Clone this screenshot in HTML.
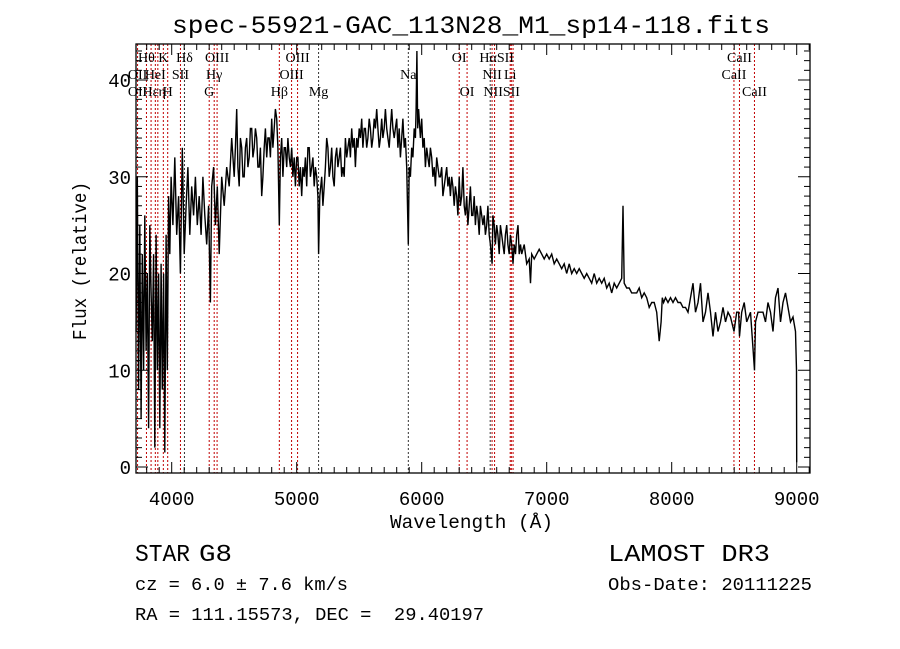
<!DOCTYPE html>
<html><head><meta charset="utf-8"><style>
html,body{margin:0;padding:0;background:#fff;}
svg{display:block;}
text{font-family:"Liberation Mono","DejaVu Sans Mono",monospace;fill:#000;}
.ser{font-family:"Liberation Serif",serif;}
</style></head><body>
<svg id="chart" width="900" height="649" viewBox="0 0 900 649" xmlns="http://www.w3.org/2000/svg">
<rect width="900" height="649" fill="#fff"/>
<text x="172" y="33" font-size="25" textLength="598" lengthAdjust="spacingAndGlyphs">spec-55921-GAC_113N28_M1_sp14-118.fits</text>
<g id="lines"></g>
<g id="labels"></g>
<g id="axes"></g>
<path id="spec" fill="none" stroke="#000" stroke-width="1.4" stroke-linejoin="miter"/>
<text x="390" y="528" font-size="19" textLength="163" lengthAdjust="spacingAndGlyphs">Wavelength (Å)</text>
<text transform="translate(86,340) rotate(-90)" font-size="19" textLength="158" lengthAdjust="spacingAndGlyphs">Flux (relative)</text>
<text x="135" y="561" font-size="24" textLength="55" lengthAdjust="spacingAndGlyphs">STAR</text>
<text x="199" y="561" font-size="24" textLength="33" lengthAdjust="spacingAndGlyphs">G8</text>
<text x="608" y="561" font-size="24" textLength="162" lengthAdjust="spacingAndGlyphs">LAMOST DR3</text>
<text x="135" y="590" font-size="18" textLength="213" lengthAdjust="spacingAndGlyphs">cz = 6.0 ± 7.6 km/s</text>
<text x="608" y="590" font-size="18" textLength="204" lengthAdjust="spacingAndGlyphs">Obs-Date: 20111225</text>
<text x="135" y="620" font-size="18" textLength="349" lengthAdjust="spacingAndGlyphs" xml:space="preserve" style="white-space:pre">RA = 111.15573, DEC =  29.40197</text>
</svg>
<script>
const wave=[3715,3725,3735,3745,3755,3765,3775,3785,3795,3805,3815,3825,3835,3845,3855,3865,3875,3885,3895,3905,3915,3925,3935,3945,3955,3965,3975,3985,3995,
4010,4025,4040,4055,4070,4085,4100,4115,4130,4145,4160,4175,4190,4205,4220,4235,4250,4265,4280,4295,4305,4310,4320,4335,4350,4365,4380,4400,4420,4440,4460,4480,4500,
4510,4520,4530,4540,4550,4560,4570,4580,4590,4600,
4610,4620,4630,4640,4650,4660,4670,4680,4690,4700,
4710,4720,4730,4740,4750,4760,4770,4780,4790,4800,
4810,4820,4830,4840,4850,4861,4870,4880,4890,4900,
4910,4920,4930,4940,4950,4960,4970,4980,4990,5000,
5010,5020,5030,5040,5050,5060,5070,5080,5090,5100,
5110,5120,5130,5140,5150,5160,5170,5175,5185,5200,
5210,5220,5230,5240,5250,5260,5270,5280,5290,5300,
5310,5320,5330,5340,5350,5360,5370,5380,5390,5400,
5410,5420,5430,5440,5450,5460,5470,5480,5490,5500,
5510,5520,5530,5540,5550,5560,5570,5580,5590,5600,
5610,5620,5630,5640,5650,5660,5670,5680,5690,5700,
5710,5720,5730,5740,5750,5760,5770,5780,5790,5800,
5810,5820,5830,5840,5850,5860,5870,5880,5893,5900,
5910,5920,5930,5940,5950,5955,5962,5968,5975,5990,
6000,6010,6020,6030,6040,6050,6060,6070,6080,6090,
6100,6110,6120,6130,6140,6150,6160,6170,6180,6190,
6200,6210,6220,6230,6240,6250,6260,6270,6280,6290,
6300,6310,6320,6330,6340,6350,6360,6370,6380,6390,
6400,6410,6420,6430,6440,6450,6460,6470,6480,6490,
6500,6510,6520,6530,6540,6550,6563,6570,6580,6590,
6600,6610,6620,6630,6640,6650,6660,6670,6680,6690,
6700,6710,6720,6730,6740,6750,6760,6770,6780,6790,
6800,6820,6840,6860,6870,6880,6900,6920,6940,6960,
6980,7000,7020,7040,7060,7080,7100,7120,7140,7160,
7180,7200,7220,7240,7260,7280,7300,7320,7340,7360,
7380,7400,7420,7440,7460,7480,7500,7520,7540,7560,
7580,7600,7610,7620,7640,7660,7680,7700,7720,7740,
7760,7780,7800,7820,7840,7860,7880,7900,7915,7925,
7935,7950,7970,7990,8010,8030,8050,8070,8090,8110,
8130,8150,8170,8190,8210,8230,8250,8270,8290,8310,
8330,8350,8370,8390,8410,8430,8450,8470,8498,8520,
8535,8542,8560,8580,8600,8630,8662,8670,8690,8710,
8730,8750,8770,8790,8810,8830,8850,8870,8890,8910,
8930,8950,8970,8990,8998,9000];
const flux=[14,30,8,25,5,22,10,26,12,20,4,25,18,13,22,2,24,10,20,4,21,8,20,1.5,24,10,28,22,30,
25,32,24,28,20,33,22,27,31,24,29,26,30,25,28,24,30,26,23,27,20,17,29,31,25,29,22,30,27,31,29,34,30,
33,37,31,29,34,33,30,30,33,34,
31,32,35,35,32,33,35,34,31,31,
33,28,30,33,35,32,34,34,32,36,
33,35,37,36,33,25,32,34,30,33,
33,31,34,32,31,33,30,32,29,32,
32,29,31,28,31,30,32,29,33,33,
30,31,32,29,31,30,28,22,28,30,
27,29,31,34,33,30,31,33,30,29,
32,33,31,32,33,30,31,30,34,32,
33,34,32,35,33,34,31,34,33,35,
34,36,33,35,35,33,34,36,35,33,
34,36,35,37,35,33,34,36,34,35,
37,35,34,33,35,37,35,34,35,36,
33,35,32,34,36,33,34,31,23,31,
30,33,32,35,34,37,43,35,37,34,
36,33,34,31,33,32,31,33,32,30,
31,29,32,31,30,30,31,28,29,30,
31,29,30,28,30,29,27,29,28,26,
30,27,28,31,27,26,28,25,27,29,
26,26,28,25,27,26,24,27,26,25,
26,24,25,27,24,23,21,26,25,23,
25,24,22,25,24,23,22,24,25,23,
22,24,23,21,23,22,24,25,22,23,
22,23,21,21.5,19,22,21.5,22,22.5,22,
21.5,22,21.5,22,21,21.5,21,20.5,21,20,
21,20,20.5,20,20.5,20,19.5,20,19.5,19,
20,19,19.5,19,19.5,18.5,19,18,19,18.5,
19,19.5,27,19,18.5,18.5,18,18,18,18.5,
17.5,18,17.5,16.5,17,17,16,13,15,17.5,
17,17.5,17,17.5,17,17.5,17,17,16.5,16.5,
16,17.5,19,16,17,19,15,16,18,16,
13.5,16,14,15,16.5,15,16,15.5,14,16,
16,13.5,16,17,15,16,10,15,16,16,
16,15,17,16,14,17.5,18.5,15,17,18,
16.5,15,15.5,14,10,0.5];
const lineWave=[3727,3798,3835,3869,3889,3933,3968,4070,4102,4300,4340,4363,4861,4959,5007,5175,5893,6300,6363,6548,6563,6583,6708,6717,6731,8498,8542,8662];
const lineDark=[0,0,0,0,0,0,0,0,1,0,0,0,0,0,0,1,1,0,0,1,0,0,0,0,0,0,0,0];
const labelText=["Hθ","K","Hδ","OIII","OIII","OI","HαSII","CaII","OII","HeI","SII","Hγ","OIII","Na","NII","Li","CaII","OII","Hεη","H","G","Hβ","Mg","OI","NIISII","CaII"];
const labelWave=[3798,3933,4102,4363,5007,6300,6600,8542,3727,3869,4070,4340,4959,5893,6563,6708,8498,3727,3860,3968,4300,4861,5175,6363,6640,8662];
const labelRow=[0,0,0,0,0,0,0,0,1,1,1,1,1,1,1,1,1,2,2,2,2,2,2,2,2,2];
const xTicks=[4000,5000,6000,7000,8000,9000];
const yTicks=[0,10,20,30,40];

const L=136,R=810,T=44,B=473;
const xs=w=>171.7+(w-4000)*0.125;
const ys=f=>467-f*9.675;
const NS="http://www.w3.org/2000/svg";
function mk(tag,attrs,parent){const e=document.createElementNS(NS,tag);for(const k in attrs)e.setAttribute(k,attrs[k]);parent.appendChild(e);return e;}

const gl=document.getElementById('lines');
lineWave.forEach((w,i)=>{
 const e=mk('line',{x1:xs(w),x2:xs(w),y1:T,y2:B,stroke:lineDark[i]?'#333':'#c00000','stroke-width':1,'stroke-dasharray':'2,2'},gl);
 
 
});
const glab=document.getElementById('labels');
labelText.forEach((t,i)=>{
 const e=mk('text',{x:xs(labelWave[i]),y:62+labelRow[i]*17,'font-size':14,'text-anchor':'middle',class:'ser'},glab);
 e.textContent=t;
 
 
});

let d='';
const n=Math.min(wave.length,flux.length);
for(let i=0;i<n;i++){d+=(i?'L':'M')+xs(wave[i]).toFixed(1)+' '+ys(flux[i]).toFixed(1);}
document.getElementById('spec').setAttribute('d',d);

const ga=document.getElementById('axes');
const fr=mk('rect',{x:L,y:T,width:R-L,height:B-T,fill:'none',stroke:'#000','stroke-width':1.3},ga);


for(let w=3800;w<=9100;w+=100){
 const x=xs(w);const maj=(w%1000===0);const len=maj?11:6;
 mk('line',{x1:x,x2:x,y1:B,y2:B-len,stroke:'#000','stroke-width':1},ga);
 mk('line',{x1:x,x2:x,y1:T,y2:T+len,stroke:'#000','stroke-width':1},ga);
}
xTicks.forEach(w=>{
 const e=mk('text',{x:xs(w),y:505,'font-size':19,'text-anchor':'middle','font-family':'Liberation Sans, sans-serif'},ga);
 e.textContent=w;
 
 
});
for(let f=0;f<=43;f++){
 const y=ys(f);const maj=(f%10===0);const len=maj?12:6;
 mk('line',{x1:L,x2:L+len,y1:y,y2:y,stroke:'#000','stroke-width':1},ga);
 mk('line',{x1:R,x2:R-len,y1:y,y2:y,stroke:'#000','stroke-width':1},ga);
}
yTicks.forEach(f=>{
 const e=mk('text',{x:131,y:ys(f)+7,'font-size':19,'text-anchor':'end','font-family':'Liberation Sans, sans-serif'},ga);
 e.textContent=f;
 
 
});
</script>
</body></html>
